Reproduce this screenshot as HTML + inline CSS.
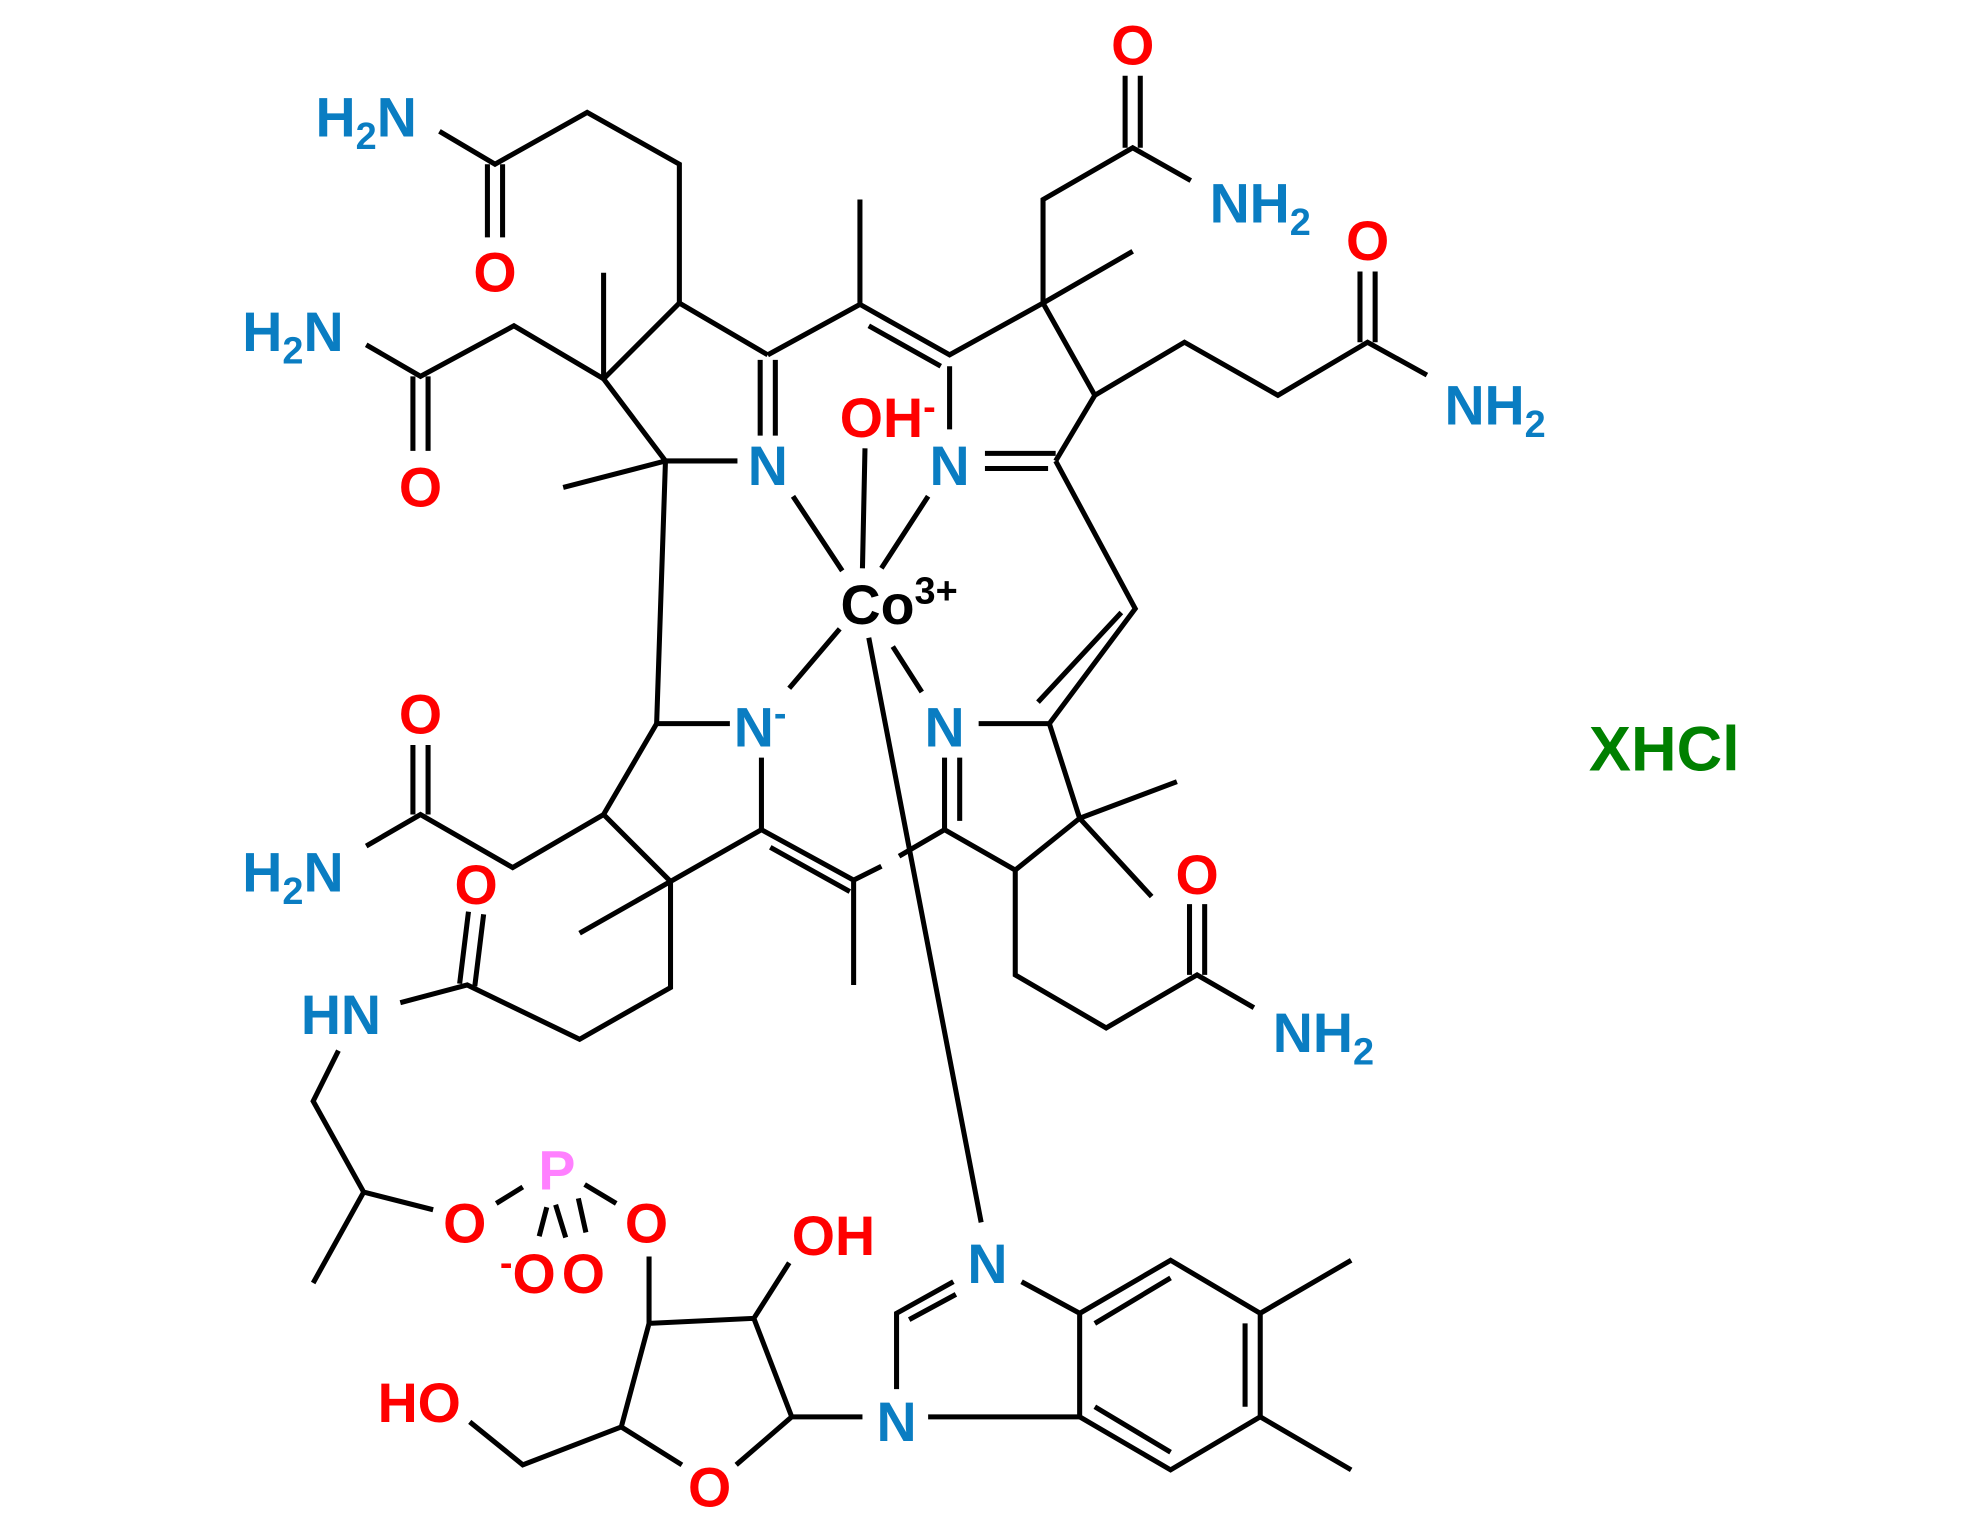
<!DOCTYPE html>
<html><head><meta charset="utf-8"><style>html,body{margin:0;padding:0;background:#fff}svg{display:block}</style></head>
<body>
<svg width="1980" height="1528" viewBox="0 0 1568 1210" xmlns="http://www.w3.org/2000/svg">
<g stroke="#000" stroke-width="4" fill="none" stroke-linecap="butt">
<path d="M348,104 L392,130 L465,89 L538,130 L538,240"/>
<path d="M386,130 V188 M398,130 V188"/>
<path d="M538,240 L608,281 M538,240 L478,300 L527,365 L584,365"/>
<path d="M602,285 V345 M614,285 V345"/>
<path d="M478,300 V216 M527,365 L446,386"/>
<path d="M478,300 L407,258 L333,298 L290,273"/>
<path d="M327,298 V357 M339,298 V357"/>
<path d="M608,281 L681,241 L752,281 L826,240 M681,241 V158 M688,258 L745,290"/>
<path d="M752,290 V340"/>
<path d="M826,240 L867,313 L836,365 M826,240 L897,199 M826,240 V158 L897,117 L943,143"/>
<path d="M891,117 V60 M903,117 V60"/>
<path d="M867,313 L938,271 L1012,313 L1083,271 L1130,297"/>
<path d="M1077,271 V215 M1089,271 V215"/>
<path d="M836,359 H780 M830,371 H780"/>
<path d="M836,365 L899,482 L831,573 L775,573 M888,485 L822,556"/>
<path d="M748,600 V657 M760,600 V650"/>
<path d="M831,573 L855,648 L804,689 L748,657 L712,678 M698,686 L676,697"/>
<path d="M855,648 L932,619 M855,648 L912,710"/>
<path d="M804,689 V772 L876,814 L948,772 L993,798"/>
<path d="M942,772 V716 M954,772 V716"/>
<path d="M578,573 H520 L527,365 M603,600 V657 L676,697 V780 M610,671 L673,706"/>
<path d="M603,657 L531,698 L478,645 L520,573 M531,698 L459,739 M531,698 V782 L459,823 L370,780 L317,794"/>
<path d="M364,779 L371,722 M376,781 L383,724"/>
<path d="M478,645 L406,687 L333,645 L290,670"/>
<path d="M327,645 V590 M339,645 V590"/>
<path d="M628,393 L667,452 M685,355 L683,450 M735,393 L698,450 M665,498 L625,545 M707,512 L730,548 M688,505 L777,968"/>
<path d="M268,832 L248,872 L288,944 L248,1016 M288,944 L343,958"/>
<path d="M393,953 L414,940 M463,938 L488,953"/>
<path d="M433,956 L427,979 M440,954 L448,980 M458,949 L464,976"/>
<path d="M514,995 V1048 L597,1044 L625,1000 M597,1044 L627,1122 L683,1122 M627,1122 L583,1160 M540,1160 L492,1130 L514,1048 M492,1130 L414,1160 L372,1126"/>
<path d="M710,1100 V1040 L755,1015 M720,1045 L757,1025"/>
<path d="M809,1015 L855,1040 V1122 L735,1122"/>
<path d="M855,1040 L927,998 L998,1040 V1122 L927,1164 L855,1122 M867,1048 L927,1012 M986,1048 V1114 M867,1114 L927,1150"/>
<path d="M998,1040 L1070,998 M998,1122 L1070,1164"/>
</g>
<g font-family="Liberation Sans, sans-serif" font-weight="bold" font-size="44" text-anchor="middle">
<g fill="#0a7dc2">
<text x="290" y="108">H<tspan font-size="30" dy="10">2</tspan><tspan dy="-10">N</tspan></text>
<text x="232" y="278">H<tspan font-size="30" dy="10">2</tspan><tspan dy="-10">N</tspan></text>
<text x="232" y="706">H<tspan font-size="30" dy="10">2</tspan><tspan dy="-10">N</tspan></text>
<text x="998" y="176">NH<tspan font-size="30" dy="10">2</tspan></text>
<text x="1184" y="336">NH<tspan font-size="30" dy="10">2</tspan></text>
<text x="1048" y="833">NH<tspan font-size="30" dy="10">2</tspan></text>
<text x="270" y="819">HN</text>
<text x="608" y="384">N</text>
<text x="752" y="384">N</text>
<text x="602" y="591">N<tspan font-size="30" dy="-16">-</tspan></text>
<text x="748" y="591">N</text>
<text x="782" y="1016">N</text>
<text x="710" y="1141">N</text>
</g>
<g fill="#ff0000">
<text x="392" y="231">O</text>
<text x="333" y="401">O</text>
<text x="897" y="51">O</text>
<text x="1083" y="206">O</text>
<text x="333" y="581">O</text>
<text x="377" y="716">O</text>
<text x="948" y="708">O</text>
<text x="703" y="346">OH<tspan font-size="30" dy="-14">-</tspan></text>
<text x="368" y="984">O</text>
<text x="512" y="984">O</text>
<text x="462" y="1024">O</text>
<text x="418" y="1024"><tspan font-size="30" dy="-14">-</tspan><tspan dy="14">O</tspan></text>
<text x="660" y="994">OH</text>
<text x="332" y="1126">HO</text>
<text x="562" y="1193">O</text>
</g>
<text x="441" y="942" fill="#ff80ff">P</text>
<text x="712" y="494" fill="#000">Co<tspan font-size="30" dy="-16">3+</tspan></text>
<text x="1318" y="610" fill="#008000" font-size="50">XHCl</text>
</g>
</svg>
</body></html>
